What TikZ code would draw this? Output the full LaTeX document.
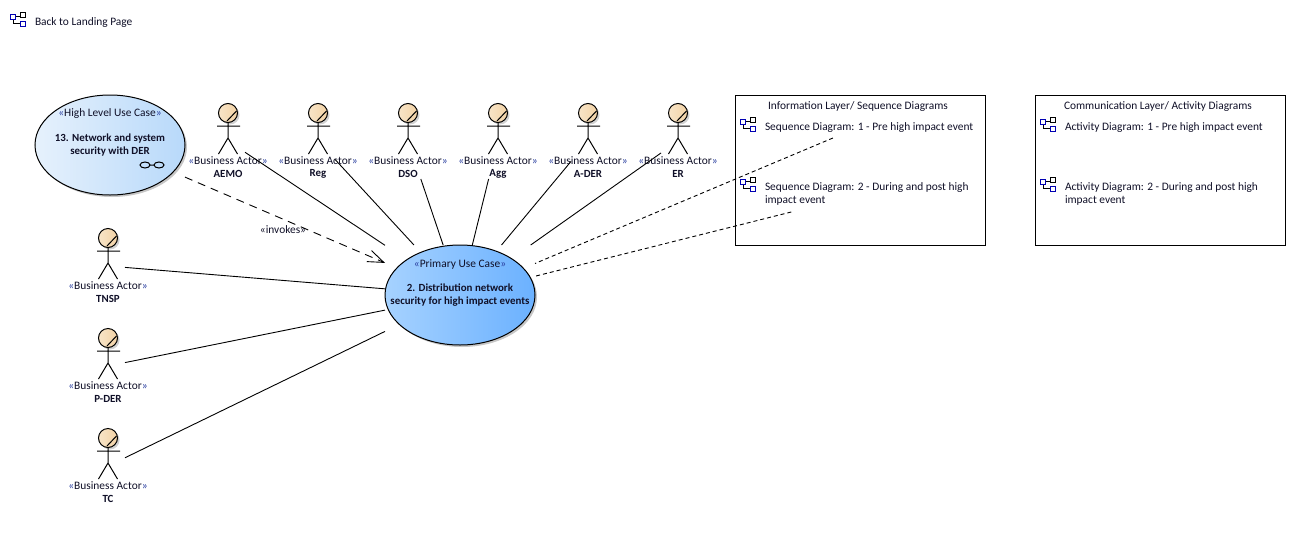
\documentclass[tikz,border=0pt]{standalone}
\usepackage{fontspec}
\setmainfont{Carlito}
\usetikzlibrary{arrows.meta,shadows,positioning,shapes.geometric}
\definecolor{ink}{HTML}{101028}
\definecolor{guil}{HTML}{2A3FA0}
\definecolor{hlL}{HTML}{E6F1FC}
\definecolor{hlR}{HTML}{B8D9FA}
\definecolor{prL}{HTML}{A6D2FF}
\definecolor{prR}{HTML}{6BB1FF}
\definecolor{headL}{HTML}{F8E4C8}
\definecolor{headR}{HTML}{F2D2A4}
\newcommand{\stereo}[1]{{\color{guil}«}#1{\color{guil}»}}
\tikzset{
  x=1pt,y=-1pt,
  lbl/.style={font=\fontsize{11.4}{13}\selectfont,text=ink,inner sep=0pt,outer sep=0pt},
  lblb/.style={lbl,font=\fontsize{10.9}{13}\selectfont\bfseries},
  txt/.style={lbl,anchor=west,align=left},
  clip box/.style={rectangle,draw=none,fill=none,inner sep=0pt,outer sep=0pt},
  actorbox/.style={clip box,minimum width=34pt,minimum height=76pt},
  itembox/.style={clip box,minimum width=238pt},
  assoc/.style={draw=black,line width=0.9pt},
  trace/.style={draw=black,line width=0.9pt,dash pattern=on 4pt off 3pt},
  invoke/.style={draw=black,line width=0.9pt,dash pattern=on 8pt off 6pt,-{Straight Barb[length=16pt,width=12pt,line width=0.9pt]}},
  panel/.style={rectangle,draw=black,line width=1pt,minimum width=250pt,minimum height=150pt,inner sep=0pt},
  usecase/.style={ellipse,draw=black,line width=1pt,minimum width=150pt,minimum height=100pt,inner sep=0pt,
     drop shadow={shadow xshift=2pt,shadow yshift=-2pt,opacity=0.22,fill=black}},
  pics/actor/.style={code={
    \fill[black!18] (2,-26) circle (9.5);
    \draw[line width=1pt,left color=headL,right color=headR] (0,-28) circle (9.5);
    \draw[line width=1pt] (-1,-20) -- (8.5,-30);
    \draw[line width=1pt] (-11,-15) -- (12,-15) (0,-18.5) -- (0,-3) (-9.5,13) -- (0,-3) -- (9.5,13);
  }},
  pics/diaglink/.style={code={
    \draw[line width=1pt,black] (5.5,4) -- (10.5,4) (3,7.5) -- (3,11.5) -- (10.5,11.5);
    \draw[line width=1pt,blue!70!black,fill=white] (0.5,2.5) rectangle (5.5,7.5);
    \draw[line width=1pt,black,fill=white] (10.5,0.5) rectangle (15.5,5.5);
    \draw[line width=1pt,blue!70!black,fill=white] (10.5,9) rectangle (15.5,14);
  }}
}
\begin{document}
\begin{tikzpicture}
\useasboundingbox (0,0) rectangle (1295,555);
\fill[white] (0,0) rectangle (1295,555);

% top link
\pic at (10,12) {diaglink};
\node[txt] (back) at (35,23) {Back to Landing Page};

% panels
\node[panel] (info) at (860.5,170.5) {};
\node[panel] (comm) at (1160.5,170.5) {};
\node[txt] (infot) at (768,107) {Information Layer/ Sequence Diagrams};
\node[txt] (commt) at (1064,107) {Communication Layer/ Activity Diagrams};

\pic at (740,117) {diaglink};
\pic at (740,177) {diaglink};
\pic at (1040,117) {diaglink};
\pic at (1040,177) {diaglink};
\node[txt] (sdat) at (765,128) {Sequence Diagram: 1 - Pre high impact event};
\node[txt] (sdbt) at (765,194) {Sequence Diagram: 2 - During and post high\\impact event};
\node[txt] (adat) at (1065,128) {Activity Diagram: 1 - Pre high impact event};
\node[txt] (adbt) at (1065,194) {Activity Diagram: 2 - During and post high\\impact event};
\node[itembox,minimum height=22pt] (sda) at (859,127) {};
\node[itembox,minimum height=34pt] (sdb) at (859,195) {};

% use cases
\node[usecase,left color=hlL,right color=hlR] (hluse) at (110,145) {};
\node[lbl] (hlst) at (110,114) {\stereo{High Level Use Case}};
\node[lblb,align=center] (hlname) at (110,145.5) {13. Network and system\\security with DER};
\draw[line width=1pt] (145,165) ellipse (5 and 3) (159,165) ellipse (5 and 3) (150,165) -- (154,165);
\node[clip box,minimum width=150pt,minimum height=100pt] (hl) at (110,145) {};

\node[usecase,left color=prL,right color=prR] (pruse) at (460,295) {};
\node[lbl] (prst) at (460,264) {\stereo{Primary Use Case}};
\node[lblb,align=center] (prname) at (460,295.5) {2. Distribution network\\security for high impact events};
\node[clip box,minimum width=150pt,minimum height=100pt] (pr) at (460,295) {};

% actors
\foreach \n/\lab/\x/\y in {aemo/AEMO/228/141,reg/Reg/318/141,dso/DSO/408/141,agg/Agg/498/141,ader/A-DER/588/141,er/ER/678/141,tnsp/TNSP/108/266,pder/P-DER/108/366,tc/TC/108/466}{
  \node[actorbox] (\n) at (\x,\y) {};
  \pic at (\x,\y) {actor};
  \node[lbl] (\n s) at (\x,\y+20) {\stereo{Business Actor}};
  \node[lblb] (\n l) at (\x,\y+33) {\lab};
}

% connectors
\foreach \n in {aemo,reg,dso,agg,ader,er,tnsp,pder,tc}{
  \draw[assoc] (\n) -- (pr);
}
\draw[invoke] (hl) -- (pr);
\node[lbl] (inv) at (283,229.5) {«invokes»};
\draw[trace] (sda) -- (pr);
\draw[trace] (sdb) -- (pr);
\end{tikzpicture}
\end{document}
